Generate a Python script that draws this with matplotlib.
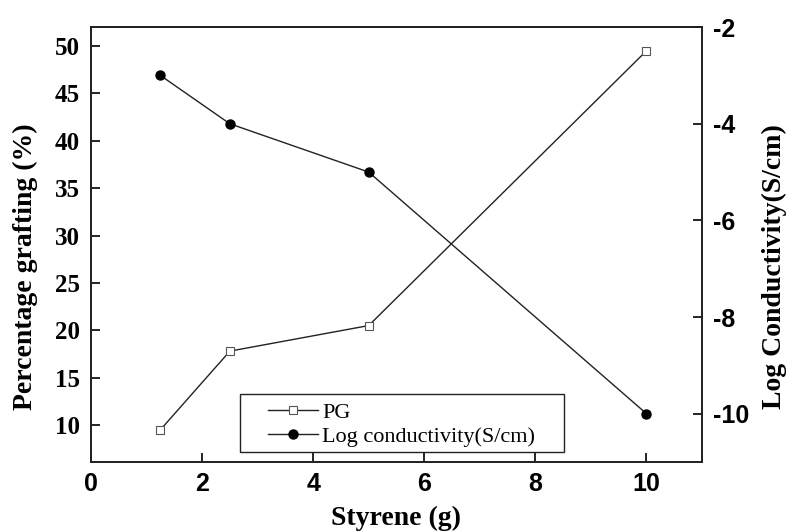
import matplotlib
matplotlib.use('Agg')
import matplotlib.pyplot as plt
from matplotlib.patches import Rectangle

styrene = [1.25, 2.5, 5, 10]
pg = [9.5, 17.8, 20.5, 49.5]
log_cond = [-3, -4, -5, -10]

x_ticks = [0, 2, 4, 6, 8, 10]
left_ticks = [10, 15, 20, 25, 30, 35, 40, 45, 50]
right_ticks = [-10, -8, -6, -4, -2]

serif = 'Liberation Serif'
sans = 'Liberation Sans'

plt.rcParams['axes.unicode_minus'] = False

fig = plt.figure(figsize=(7.87, 5.32), dpi=100)
ax = fig.add_axes([0.1156, 0.1316, 0.7764, 0.8174])
ax2 = ax.twinx()

l1, = ax.plot(styrene, pg, color='#222222', lw=1.0, marker='s', markersize=5.5,
              markerfacecolor='white', markeredgecolor='#555555', markeredgewidth=0.8,
              label='PG')
l2, = ax2.plot(styrene, log_cond, color='#222222', lw=1.0, marker='o', markersize=6.5,
               markerfacecolor='black', markeredgecolor='black', label='Log conductivity(S/cm)')

ax.set_xlim(0, 11)
ax.set_ylim(6.1, 52)
ax2.set_ylim(-11, -2)

ax.set_xticks(x_ticks)
ax.set_yticks(left_ticks)
ax2.set_yticks(right_ticks)

ax.tick_params(axis='both', direction='in', length=6.5, width=1.2, pad=7)
ax.tick_params(axis='y', left=True, right=False, pad=8)
ax2.tick_params(axis='y', direction='in', length=6.5, width=1.2, pad=8)

for lab in ax.get_xticklabels():
    lab.set_fontfamily(sans)
    lab.set_fontweight('bold')
    lab.set_fontsize(18)
for lab in ax.get_yticklabels():
    lab.set_fontfamily(serif)
    lab.set_fontweight('bold')
    lab.set_fontsize(18)
for lab in ax2.get_yticklabels():
    lab.set_fontfamily(sans)
    lab.set_fontweight('bold')
    lab.set_fontsize(18)

for a in (ax, ax2):
    for s in a.spines.values():
        s.set_linewidth(1.3)
        s.set_color('#222222')

ax.set_xlabel('Styrene (g)', fontfamily=serif, fontweight='bold', fontsize=20)
ax.set_ylabel('Percentage grafting (%)', fontfamily=serif, fontweight='bold', fontsize=20)
ax2.set_ylabel('Log Conductivity(S/cm)', fontfamily=serif, fontweight='bold', fontsize=20)
ax.xaxis.set_label_coords(0.5, -0.10)
ax.yaxis.set_label_coords(-0.087, 0.45)
ax2.yaxis.set_label_coords(1.098, 0.45)

# legend box drawn separately so the entries can sit inset from its left edge
ax2.add_patch(Rectangle((0.2439, 0.023), 0.530, 0.1333, transform=ax.transAxes,
                        facecolor='white', edgecolor='#222222', lw=1.0, zorder=5))
leg = ax2.legend(handles=[l1, l2], loc='center left', bbox_to_anchor=(0.2897, 0.086),
                 prop={'family': serif, 'size': 16}, frameon=False,
                 borderpad=0, labelspacing=0.15, handlelength=2.25, handletextpad=0.2,
                 borderaxespad=0)
leg.set_zorder(6)

fig.savefig('out.png', dpi=100)
